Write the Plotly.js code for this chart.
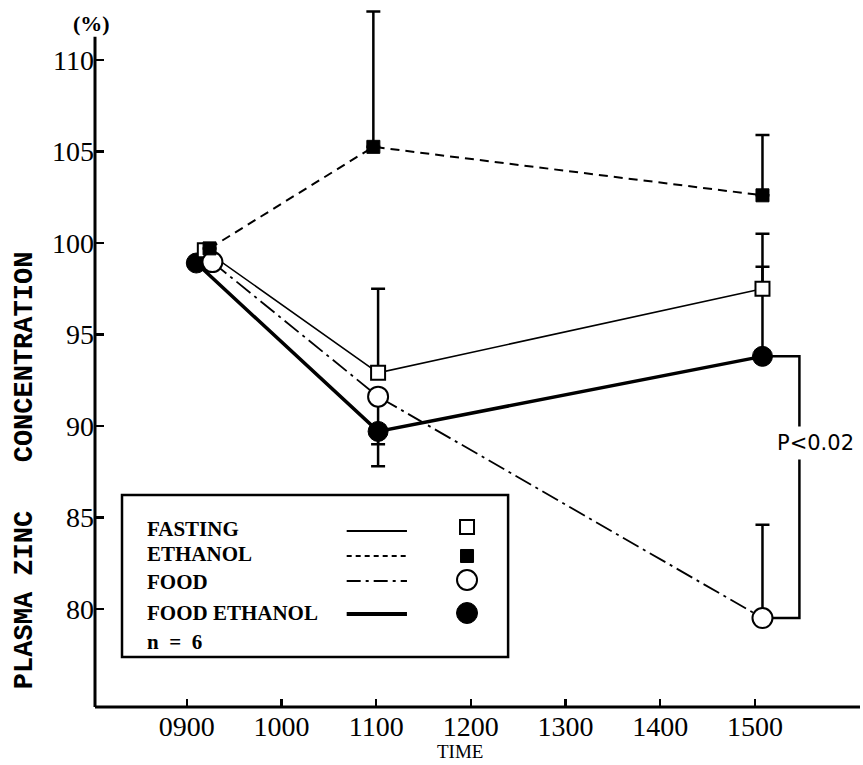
<!DOCTYPE html>
<html>
<head>
<meta charset="utf-8">
<script src="https://cdn.plot.ly/plotly-3.0.1.min.js"></script>
<style>html,body{margin:0;padding:0;background:#fff;}</style>
</head>
<body>
<div id="chart" style="width:863px;height:765px;"></div>
<script>
// Time in hours (9 = 0900)
const tickVals = [9, 10, 11, 12, 13, 14, 15];
const tickText = ['0900', '1000', '1100', '1200', '1300', '1400', '1500'];
const yTicks = [80, 85, 90, 95, 100, 105, 110];

const timeFasting = [9.19, 11.02, 15.08];
const fasting = [99.6, 92.9, 97.5];
const fastingUp = [0, 4.6, 3.0];
const fastingDown = [0, 0, 0];

const timeEthanol = [9.24, 10.97, 15.08];
const ethanol = [99.7, 105.25, 102.6];
const ethanolUp = [0, 7.4, 3.3];
const ethanolDown = [0, 0, 0];

const timeFood = [9.27, 11.02, 15.08];
const food = [98.95, 91.6, 79.5];
const foodUp = [0, 0, 5.1];
const foodDown = [0, 2.6, 0];

const timeFoodEth = [9.10, 11.02, 15.08];
const foodEth = [98.9, 89.7, 93.8];
const foodEthUp = [0, 0, 4.9];
const foodEthDown = [0, 1.9, 0];

const xRange = [8.03, 16.11];
const yRange = [74.64, 113.0];

function err(up, down) {
  return {type: 'data', symmetric: false, array: up, arrayminus: down,
          color: '#000', thickness: 2.5, width: 7, visible: true};
}

const traces = [
  {x: timeFoodEth, y: foodEth, mode: 'lines+markers', name: 'FOOD ETHANOL',
   line: {color: '#000', width: 3.5},
   marker: {symbol: 'circle', size: 20, color: '#000', line: {color: '#000', width: 1}},
   error_y: err(foodEthUp, foodEthDown)},
  {x: timeFasting, y: fasting, mode: 'lines+markers', name: 'FASTING',
   line: {color: '#000', width: 1.5},
   marker: {symbol: 'square', size: 14, color: '#fff', line: {color: '#000', width: 2}},
   error_y: err(fastingUp, fastingDown)},
  {x: timeFood, y: food, mode: 'lines+markers', name: 'FOOD',
   line: {color: '#000', width: 1.8, dash: '18px,5px,3px,5px'},
   marker: {symbol: 'circle', size: 20, color: '#fff', line: {color: '#000', width: 2}},
   error_y: err(foodUp, foodDown)},
  {x: timeEthanol, y: ethanol, mode: 'lines+markers', name: 'ETHANOL',
   line: {color: '#000', width: 2, dash: '9px,6px'},
   marker: {symbol: 'square', size: 13, color: '#000', line: {color: '#000', width: 1}},
   error_y: err(ethanolUp, ethanolDown)}
];

// Legend geometry (paper coordinates)
const legRows = [0.2507, 0.2151, 0.1795, 0.1325];
const legText = ['FASTING', 'ETHANOL', 'FOOD', 'FOOD ETHANOL'];
const legTextY = [0.2536, 0.2180, 0.1780, 0.1339];
const legDash = ['solid', '5px,4px', '14px,5px,3px,5px', 'solid'];
const legWidth = [1.8, 2, 2.2, 4];

const shapes = [
  // y axis line
  {type: 'line', xref: 'paper', yref: 'y', x0: 0, x1: 0, y0: yRange[0], y1: 111.26,
   line: {color: '#000', width: 3}},
  // x axis line
  {type: 'line', xref: 'paper', yref: 'paper', x0: 0, x1: 1, y0: 0, y1: 0,
   line: {color: '#000', width: 3}},
  // P<0.02 bracket
  {type: 'path', xref: 'x', yref: 'y', layer: 'below',
   path: 'M15.08,' + foodEth[2] + ' L15.47,' + foodEth[2] + ' L15.47,' + food[2] + ' L15.08,' + food[2],
   line: {color: '#000', width: 2.5}},
  // legend box
  {type: 'rect', xref: 'paper', yref: 'paper', x0: 0.0353, x1: 0.540, y0: 0.0712, y1: 0.302,
   line: {color: '#000', width: 2.5}, fillcolor: 'rgba(255,255,255,1)', layer: 'above'}
];
legRows.forEach((yy, i) => {
  shapes.push({type: 'line', xref: 'paper', yref: 'paper', x0: 0.329, x1: 0.4078, y0: yy, y1: yy,
    line: {color: '#000', width: legWidth[i], dash: legDash[i]}, layer: 'above'});
});
const legMarkY = [0.2564, 0.2151, 0.1809, 0.1339];
const legMarkX = 0.4863;
shapes.push({type: 'rect', xref: 'paper', yref: 'paper', xsizemode: 'pixel', ysizemode: 'pixel',
  xanchor: legMarkX, yanchor: legMarkY[0], x0: -7, x1: 7, y0: -7, y1: 7,
  line: {color: '#000', width: 2}, fillcolor: '#fff', layer: 'above'});
shapes.push({type: 'rect', xref: 'paper', yref: 'paper', xsizemode: 'pixel', ysizemode: 'pixel',
  xanchor: legMarkX, yanchor: legMarkY[1], x0: -6.5, x1: 6.5, y0: -6.5, y1: 6.5,
  line: {color: '#000', width: 1}, fillcolor: '#000', layer: 'above'});
shapes.push({type: 'circle', xref: 'paper', yref: 'paper', xsizemode: 'pixel', ysizemode: 'pixel',
  xanchor: legMarkX, yanchor: legMarkY[2], x0: -10, x1: 10, y0: -10, y1: 10,
  line: {color: '#000', width: 2}, fillcolor: '#fff', layer: 'above'});
shapes.push({type: 'circle', xref: 'paper', yref: 'paper', xsizemode: 'pixel', ysizemode: 'pixel',
  xanchor: legMarkX, yanchor: legMarkY[3], x0: -10.5, x1: 10.5, y0: -10.5, y1: 10.5,
  line: {color: '#000', width: 1}, fillcolor: '#000', layer: 'above'});

const legFont = {family: 'Liberation Serif', size: 21, color: '#000', weight: 'bold'};
const annotations = [
  {xref: 'paper', yref: 'paper', x: -0.0915, y: 0.336, xanchor: 'center', yanchor: 'middle',
   textangle: -90, showarrow: false,
   text: 'PLASMA ZINC&nbsp;&nbsp;&nbsp;CONCENTRATION',
   font: {family: 'Liberation Mono', size: 27, color: '#000', weight: 'bold'}},
  {xref: 'paper', yref: 'paper', x: -0.004, y: 0.973, xanchor: 'center', yanchor: 'middle',
   showarrow: false, text: '(%)',
   font: {family: 'Liberation Serif', size: 22, color: '#000', weight: 'bold'}},
  {xref: 'paper', yref: 'paper', x: 0.477, y: -0.064, xanchor: 'center', yanchor: 'middle',
   showarrow: false, text: 'TIME',
   font: {family: 'Liberation Serif', size: 19, color: '#000'}},
  {xref: 'x', yref: 'y', x: 15.64, y: 89.07, xanchor: 'center', yanchor: 'middle',
   showarrow: false, text: 'P&lt;0.02', bgcolor: '#fff', borderpad: 4,
   font: {family: 'DejaVu Sans', size: 21, color: '#000'}}
];
legText.forEach((t, i) => {
  annotations.push({xref: 'paper', yref: 'paper', x: 0.0654, y: legTextY[i], xanchor: 'left',
    yanchor: 'middle', showarrow: false, text: t, font: legFont});
});
annotations.push({xref: 'paper', yref: 'paper', x: 0.0654, y: 0.0926, xanchor: 'left',
  yanchor: 'middle', showarrow: false, text: 'n&nbsp;&nbsp;=&nbsp;&nbsp;6', font: legFont});

const layout = {
  width: 863, height: 765,
  margin: {l: 95, r: 3, t: 5, b: 58},
  paper_bgcolor: '#fff', plot_bgcolor: '#fff',
  showlegend: false,
  xaxis: {range: xRange, tickvals: tickVals, ticktext: tickText, showgrid: false, zeroline: false,
    showline: false, ticks: 'inside', ticklen: 8, tickwidth: 2.5, tickcolor: '#000',
    tickfont: {family: 'Liberation Serif', size: 28, color: '#000'}},
  yaxis: {range: yRange, tickvals: yTicks, showgrid: false, zeroline: false,
    showline: false, ticks: 'inside', ticklen: 9, tickwidth: 2.5, tickcolor: '#000',
    tickfont: {family: 'Liberation Serif', size: 28, color: '#000'}},
  shapes: shapes,
  annotations: annotations
};

Plotly.newPlot('chart', traces, layout, {staticPlot: true, displayModeBar: false});
</script>
</body>
</html>
